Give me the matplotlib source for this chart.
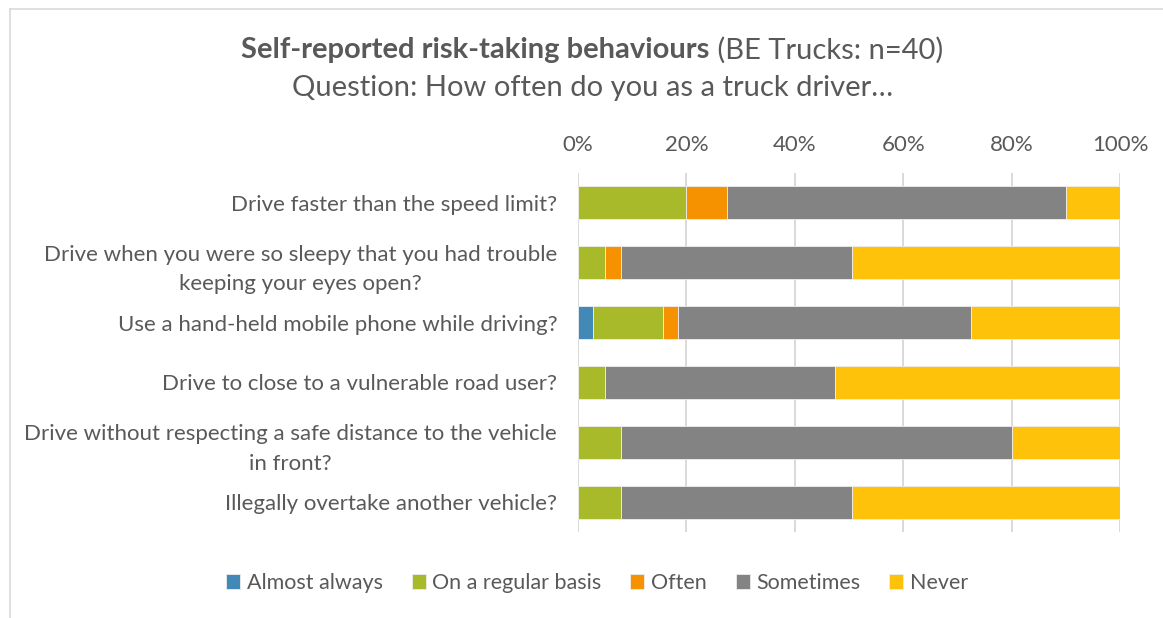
import numpy as np
import matplotlib.pyplot as plt
from matplotlib.lines import Line2D

plt.rcParams['font.family'] = ['Lato', 'DejaVu Sans']

# survey questions, top to bottom
questions = [
    "Drive faster than the speed limit?",
    "Drive when you were so sleepy that you had trouble\nkeeping your eyes open?",
    "Use a hand-held mobile phone while driving?",
    "Drive to close to a vulnerable road user?",
    "Drive without respecting a safe distance to the vehicle\nin front?",
    "Illegally overtake another vehicle?",
]
answers = ["Almost always", "On a regular basis", "Often", "Sometimes", "Never"]

# shares in percent
almost_always = [0, 0, 2.8, 0, 0, 0]
regular_basis = [20, 5, 12.8, 5, 7.9, 7.9]
often = [7.5, 2.9, 2.9, 0, 0, 0]
sometimes = [62.5, 42.6, 54.0, 42.5, 72.2, 42.6]
never = [10, 49.5, 27.5, 52.5, 19.9, 49.5]

colors = ['#4389B8', '#A8B92A', '#F69200', '#838383', '#FFC20A']
txt = '#595959'

fig = plt.figure(figsize=(11.63, 6.18), dpi=100)
ax = fig.add_axes([578/1163, 1-532/618, 542/1163, 359/618])

y = np.arange(len(questions))
left = np.zeros(len(questions))
for vals, name, c in zip([almost_always, regular_basis, often, sometimes, never], answers, colors):
    vals = np.array(vals)
    ax.barh(y, vals, left=left, height=0.55, color=c, label=name,
            edgecolor='#eeeeee', linewidth=0.6, zorder=3)
    left += vals

ax.set_xlim(0, 100)
ax.set_ylim(len(questions) - 0.5, -0.5)
ax.set_xticks(np.arange(0, 101, 20))
ax.set_xticklabels([f'{v}%' for v in range(0, 101, 20)])
ax.xaxis.tick_top()
ax.tick_params(axis='x', length=0, pad=13, labelsize=16, labelcolor=txt)
ax.set_yticks(y)
ax.set_yticklabels(questions, multialignment='center', linespacing=1.6)
ax.tick_params(axis='y', length=0, pad=15, labelsize=16, labelcolor=txt)
ax.grid(axis='x', color='#D9D9D9', linewidth=1.4, zorder=0)
for s in ax.spines.values():
    s.set_visible(False)

# title: bold part + regular part on one line
t1 = fig.text(0, 1-50/618, "Self-reported risk-taking behaviours", fontsize=21,
              fontweight='bold', color=txt, va='center', ha='left')
t2 = fig.text(0, 1-50/618, " (BE Trucks: n=40)", fontsize=21, color=txt,
              va='center', ha='left')
fig.canvas.draw()
r = fig.canvas.get_renderer()
w1 = t1.get_window_extent(r).width
w2 = t2.get_window_extent(r).width
x0 = 592 - (w1 + w2) / 2
t1.set_x(x0 / 1163)
t2.set_x((x0 + w1) / 1163)
fig.text(593/1163, 1-88/618, "Question: How often do you as a truck driver…",
         fontsize=21, color=txt, ha='center', va='center')

fig.legend(loc='center', bbox_to_anchor=(597/1163, 1-583/618), ncol=5,
           frameon=False, fontsize=15.5, labelcolor=txt, handlelength=0.65,
           handleheight=0.65, handletextpad=0.3, columnspacing=1.35)

# chart frame
fig.add_artist(Line2D([10/1163, 10/1163], [0, 1-9/618], color='#D9D9D9', lw=1.2))
fig.add_artist(Line2D([10/1163, 1], [1-9/618, 1-9/618], color='#D9D9D9', lw=1.2))

fig.savefig('out.png', dpi=100)
